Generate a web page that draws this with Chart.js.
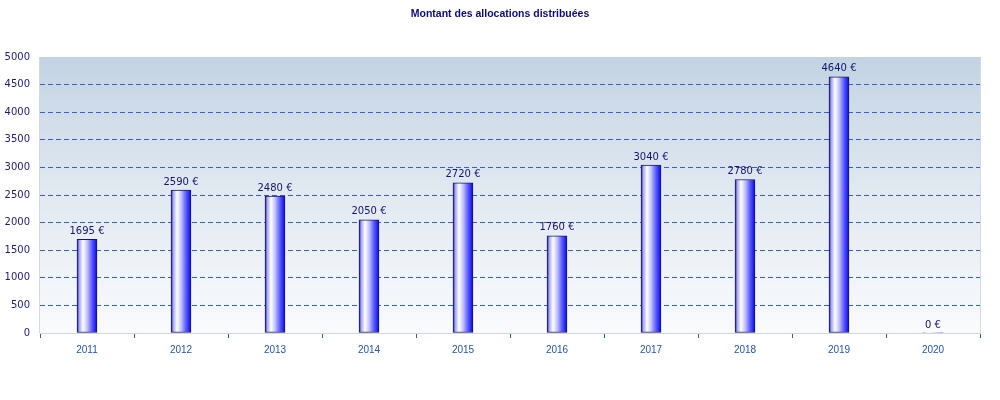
<!DOCTYPE html>
<html><head><meta charset="utf-8">
<script src="https://cdn.jsdelivr.net/npm/chart.js@4"></script>
<style>html,body{margin:0;padding:0;background:#fff}#wrap{width:1000px;height:400px}</style>
</head><body><div id="wrap"><canvas id="c" width="1000" height="400"></canvas></div>
<script>
const titleText = 'Montant des allocations distribuées';
const categories = ['2011','2012','2013','2014','2015','2016','2017','2018','2019','2020'];
const amounts = [1695, 2590, 2480, 2050, 2720, 1760, 3040, 2780, 4640, 0];
const currencySuffix = ' €';
const yMin = 0, yMax = 5000, yStep = 500;

const plotBg = {
  id: 'plotBg',
  beforeDraw(chart) {
    const {ctx, chartArea: a} = chart;
    const g = ctx.createLinearGradient(0, a.top, 0, a.bottom);
    g.addColorStop(0, '#c3d3e3');
    g.addColorStop(0.5, '#e2e9f1');
    g.addColorStop(1, '#fafbfd');
    ctx.save();
    ctx.fillStyle = g;
    ctx.fillRect(a.left, a.top, a.right - a.left, a.bottom - a.top);
    ctx.restore();
  },
  afterDraw(chart) {
    const {ctx, chartArea: a} = chart;
    ctx.save();
    ctx.strokeStyle = '#d6d9de';
    ctx.lineWidth = 1;
    ctx.setLineDash([]);
    ctx.beginPath();
    ctx.moveTo(a.right + 0.5, a.top);
    ctx.lineTo(a.right + 0.5, a.bottom);
    ctx.moveTo(a.left - 0.5, a.top);
    ctx.lineTo(a.left - 0.5, a.bottom);
    ctx.stroke();
    ctx.restore();
  }
};

const valueLabels = {
  id: 'valueLabels',
  afterDatasetsDraw(chart) {
    const {ctx} = chart;
    const meta = chart.getDatasetMeta(0);
    ctx.save();
    ctx.font = '10px "DejaVu Sans"';
    ctx.fillStyle = '#14146e';
    ctx.textAlign = 'center';
    ctx.textBaseline = 'bottom';
    meta.data.forEach((bar, i) => {
      ctx.fillText(amounts[i] + currencySuffix, bar.x, bar.y - 3);
    });
    ctx.restore();
  }
};

function barGradient(ctx) {
  const chart = ctx.chart;
  if (!chart.chartArea) return '#5050ff';
  const x = chart.scales.x.getPixelForValue(ctx.dataIndex);
  const g = chart.ctx.createLinearGradient(x - 10, 0, x + 10, 0);
  g.addColorStop(0, '#2a2a90');
  g.addColorStop(0.12, '#a8a8f8');
  g.addColorStop(0.3, '#ffffff');
  g.addColorStop(0.5, '#c4c4fc');
  g.addColorStop(0.75, '#5a5aff');
  g.addColorStop(1, '#0808e8');
  return g;
}

new Chart(document.getElementById('c'), {
  type: 'bar',
  data: {
    labels: categories,
    datasets: [{
      data: amounts,
      backgroundColor: barGradient,
      borderColor: '#18185a',
      borderWidth: (c) => amounts[c.dataIndex] === 0 ? 0 : 1,
      borderSkipped: false,
      barThickness: 20
    }]
  },
  options: {
    responsive: false,
    animation: false,
    devicePixelRatio: 1,
    layout: {padding: {top: 0, right: 0, bottom: 0, left: 0}},
    plugins: {
      legend: {display: false},
      tooltip: {enabled: false},
      title: {
        display: true,
        text: titleText,
        color: '#0a0a8a',
        font: {family: '"Liberation Sans", Arial', size: 10.5, weight: 'bold'},
        padding: {top: 8, bottom: 36.4}
      }
    },
    scales: {
      x: {
        offset: true,
        grid: {drawOnChartArea: false, drawTicks: true, tickLength: 5, color: '#2a5ad8', offset: true},
        border: {display: true, color: '#cfd6de'},
        ticks: {color: '#2050c8', font: {family: '"Liberation Sans", Arial', size: 10}, padding: 6},
        afterFit(s) { s.height = 67; }
      },
      y: {
        min: yMin, max: yMax,
        ticks: {
          stepSize: yStep, color: '#1a1a86', font: {family: '"DejaVu Sans"', size: 10}, padding: 10,
          callback: (v) => String(v)
        },
        grid: {
          drawTicks: false,
          color: (c) => (c.tick && (c.tick.value === yMin || c.tick.value === yMax)) ? 'rgba(0,0,0,0)' : '#2f5fdc',
          lineWidth: 1,
          borderDash: [5, 3]
        },
        border: {display: false, dash: [5, 3]},
        afterFit(s) { s.width = 40; }
      },
      yRight: {
        position: 'right',
        min: yMin, max: yMax,
        ticks: {display: false},
        grid: {display: false, drawTicks: false},
        border: {display: false},
        afterFit(s) { s.width = 20; }
      }
    }
  },
  plugins: [plotBg, valueLabels]
});
</script>
</body></html>
